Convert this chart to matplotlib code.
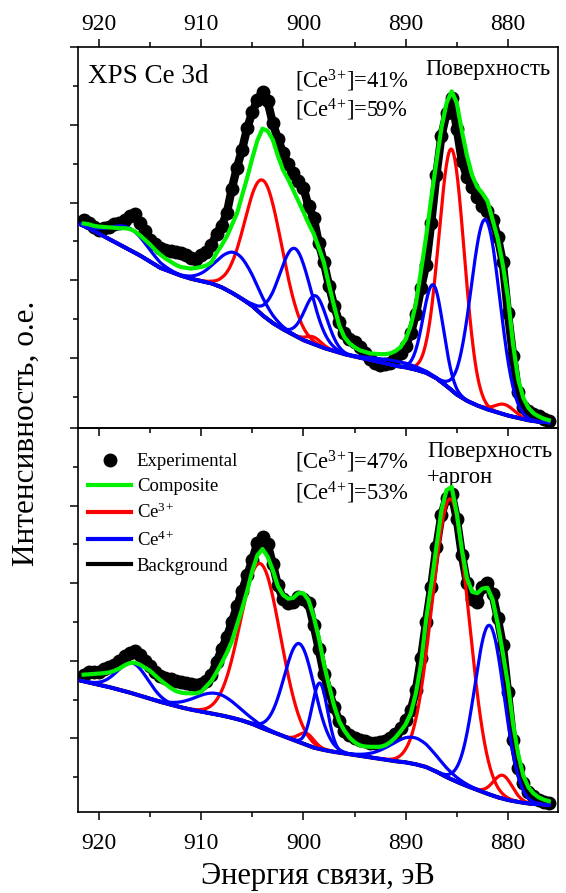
import numpy as np
import matplotlib
matplotlib.use('Agg')
import matplotlib.pyplot as plt
from matplotlib.ticker import MultipleLocator
from matplotlib.lines import Line2D

plt.rcParams['font.family'] = ['Liberation Serif', 'DejaVu Serif']
plt.rcParams['mathtext.fontset'] = 'custom'
plt.rcParams['mathtext.rm'] = 'Liberation Serif'
plt.rcParams['mathtext.default'] = 'regular'

# energy axes (eV)
E_bg = np.arange(922.0, 875.5, -1.0)      # background knots
E_exp = np.arange(921.5, 875.9, -0.5)     # measured points / composite

# ---------------- surface (top panel) ----------------
bg_top = [27.3, 26.7, 26.0, 25.3, 24.6, 23.9, 23.2, 22.4, 21.6, 21.1, 20.6, 20.2,
          19.9, 19.6, 19.1, 18.4, 17.6, 16.7, 15.5, 14.5, 13.7, 13.0, 12.3, 11.8,
          11.3, 10.9, 10.5, 10.2, 9.9, 9.6, 9.3, 9.0, 8.8, 8.5, 8.1, 7.4,
          6.4, 5.3, 4.5, 3.9, 3.4, 3.0, 2.6, 2.3, 2.0, 1.8, 1.7]
exp_top = [27.8, 27.4, 26.9, 26.5, 26.7, 26.9, 27.2, 27.4, 27.8, 28.3, 28.5, 27.4,
           26.3, 25.2, 24.6, 24.1, 23.9, 23.8, 23.6, 23.5, 23.2, 22.8, 22.7, 23.3,
           23.6, 24.5, 26.0, 27.0, 28.6, 31.8, 34.5, 36.8, 39.6, 41.6, 43.2, 44.2,
           43.0, 40.2, 38.2, 36.4, 35.0, 33.8, 32.8, 31.9, 29.5, 28.0, 24.8, 22.3,
           19.3, 16.7, 14.6, 13.2, 12.5, 12.0, 11.4, 10.6, 9.9, 9.3, 9.1, 9.2,
           9.4, 10.0, 10.6, 11.5, 13.2, 15.6, 19.0, 22.0, 27.4, 33.5, 38.6, 41.5,
           43.5, 39.5, 35.3, 33.3, 32.0, 30.7, 29.6, 28.9, 27.8, 25.6, 22.3, 15.8,
           10.3, 5.6, 3.7, 3.2, 2.8, 2.5, 2.1, 1.9]
fit_top = [27.3, 27.2, 27.0, 26.9, 26.85, 26.8, 26.75, 26.7, 26.7, 26.6, 26.3, 25.8,
           25.2, 24.6, 23.9, 23.3, 22.8, 22.4, 22.0, 21.7, 21.6, 21.5, 21.6, 21.7,
           21.9, 22.3, 23.5, 24.5, 25.6, 27.1, 28.6, 30.9, 33.2, 35.7, 38.0, 39.5,
           39.2, 38.1, 36.0, 34.2, 33.0, 31.6, 30.2, 28.8, 27.3, 26.0, 24.2, 22.3,
           19.4, 16.7, 14.2, 12.7, 11.9, 11.4, 11.0, 10.8, 10.6, 10.55, 10.5, 10.5,
           10.6, 10.9, 11.4, 12.4, 14.2, 17.0, 21.2, 25.6, 30.5, 35.2, 39.6, 42.8,
           44.3, 42.8, 39.2, 36.0, 33.5, 32.0, 31.2, 30.2, 27.8, 25.4, 22.0, 17.8,
           11.8, 7.3, 4.9, 3.6, 2.9, 2.5, 2.2, 2.0]
# fitted components: (centre eV, height above background, FWHM eV)
ce3_top = [(903.9, 17.4, 4.2), (899.0, 0.9, 1.8), (885.5, 31.0, 2.9), (880.3, 1.3, 2.2)]
ce4_top = [(917.0, 2.8, 4.2), (906.5, 5.4, 4.5), (900.8, 11.2, 3.6), (898.8, 6.3, 2.6),
           (891.0, 0.6, 5.0), (887.3, 11.8, 2.3), (882.2, 24.3, 3.3)]

# ---------------- surface + argon (bottom panel) ----------------
bg_bot = [17.5, 17.2, 16.9, 16.6, 16.25, 15.9, 15.5, 15.1, 14.7, 14.35, 14.0, 13.7,
          13.45, 13.2, 12.95, 12.65, 12.3, 11.85, 11.3, 10.8, 10.3, 9.8, 9.3, 8.8,
          8.5, 8.25, 8.05, 7.85, 7.65, 7.45, 7.25, 7.05, 6.9, 6.65, 6.3, 5.7,
          5.0, 4.4, 3.85, 3.35, 2.85, 2.4, 2.05, 1.8, 1.6, 1.5, 1.4]
exp_bot = [18.1, 18.5, 18.6, 18.6, 18.9, 19.2, 19.5, 20.0, 20.6, 21.0, 21.2, 20.8,
           20.0, 19.3, 18.6, 18.0, 17.8, 17.6, 17.4, 17.3, 17.1, 17.0, 16.9, 17.0,
           17.4, 18.2, 19.8, 21.5, 23.0, 25.0, 27.0, 29.0, 31.0, 33.0, 35.2, 36.0,
           35.0, 32.5, 29.7, 28.0, 27.4, 27.6, 28.2, 28.0, 27.4, 24.6, 21.5, 18.3,
           16.0, 14.0, 12.2, 11.0, 10.4, 10.1, 9.8, 9.6, 9.4, 9.4, 9.5, 9.7,
           10.0, 10.6, 11.3, 12.3, 13.6, 16.2, 20.3, 25.0, 29.5, 34.6, 38.8, 41.0,
           41.5, 38.3, 33.6, 30.0, 28.0, 27.6, 29.5, 30.0, 28.6, 25.5, 22.0, 16.0,
           9.8, 6.2, 4.2, 3.1, 2.5, 2.1, 1.8, 1.6]
fit_bot = [18.2, 18.25, 18.3, 18.35, 18.4, 18.5, 18.7, 19.0, 19.4, 19.7, 19.75, 19.5,
           19.1, 18.7, 18.1, 17.5, 17.0, 16.5, 16.1, 15.9, 15.8, 15.8, 15.8, 16.0,
           16.7, 17.4, 18.5, 19.7, 21.0, 22.5, 24.6, 26.7, 29.0, 31.6, 33.6, 34.4,
           33.4, 31.7, 29.6, 28.5, 28.0, 28.1, 28.7, 28.7, 27.8, 25.7, 23.0, 19.6,
           16.8, 14.2, 12.2, 11.0, 10.1, 9.5, 9.1, 8.95, 8.9, 8.9, 8.9, 9.1,
           9.5, 10.1, 10.9, 11.8, 13.2, 15.8, 19.6, 25.3, 29.8, 34.6, 39.4, 42.0,
           42.4, 39.0, 34.3, 30.6, 28.9, 28.7, 29.3, 29.4, 27.9, 24.8, 21.0, 17.0,
           11.9, 8.0, 5.2, 3.7, 2.9, 2.4, 2.1, 1.9]
ce3_bot = [(904.2, 21.1, 4.6), (899.7, 1.5, 1.8), (885.6, 36.1, 4.2), (880.5, 3.0, 2.2)]
ce4_bot = [(916.7, 3.9, 3.5), (908.5, 2.7, 5.0), (900.4, 12.7, 3.5), (898.4, 8.5, 1.8),
           (889.2, 3.4, 5.2), (881.8, 21.8, 3.4)]

E_fine = np.linspace(921.8, 876.0, 700)
GREEN, RED, BLUE = '#00f000', '#ff0000', '#0000ff'


def peak(e, c, h, w):
    s = w / 2.3548
    return h * np.exp(-0.5 * ((e - c) / s) ** 2)


def draw_panel(ax, bg, exp, fit, ce3, ce4):
    base = np.interp(E_fine, E_bg[::-1], np.array(bg)[::-1])
    ax.plot(E_exp, exp, '-o', color='k', lw=6, ms=9, zorder=1,
            solid_joinstyle='round', solid_capstyle='round')
    ax.plot(E_bg, bg, color='k', lw=3, zorder=2)
    for c, h, w in ce3:
        ax.plot(E_fine, base + peak(E_fine, c, h, w), color=RED, lw=2.3, zorder=3)
    for c, h, w in ce4:
        ax.plot(E_fine, base + peak(E_fine, c, h, w), color=BLUE, lw=2.3, zorder=4)
    ax.plot(E_exp, fit, color=GREEN, lw=3, zorder=5, solid_joinstyle='round')


fig = plt.figure(figsize=(5.66, 8.93), dpi=100)
W, H = 566.0, 893.0
ax1 = fig.add_axes([78 / W, 1 - 428 / H, 480 / W, 381 / H])
ax2 = fig.add_axes([78 / W, 1 - 812 / H, 480 / W, 384 / H])
ax1.set_zorder(2)
ax1.patch.set_alpha(0)

draw_panel(ax1, bg_top, exp_top, fit_top, ce3_top, ce4_top)
draw_panel(ax2, bg_bot, exp_bot, fit_bot, ce3_bot, ce4_bot)

ax1.set_ylim(1, 50)
ax2.set_ylim(0.5, 50)
for ax in (ax1, ax2):
    ax.set_xlim(922.05, 875.1)
    ax.xaxis.set_major_locator(MultipleLocator(10))
    ax.xaxis.set_minor_locator(MultipleLocator(5))
    ax.yaxis.set_major_locator(MultipleLocator(10))
    ax.yaxis.set_minor_locator(MultipleLocator(5))
    ax.tick_params(axis='y', which='both', direction='out', left=True, right=False,
                   labelleft=False, width=1.1)
    ax.tick_params(axis='y', which='major', length=6)
    ax.tick_params(axis='y', which='minor', length=3.3)
    ax.tick_params(axis='x', which='both', direction='out', width=1.1, labelsize=17)
    ax.tick_params(axis='x', which='major', length=6)
    ax.tick_params(axis='x', which='minor', length=3.3)
    for sp in ax.spines.values():
        sp.set_linewidth(1.2)

ax1.tick_params(axis='x', which='both', top=True, bottom=True,
                labeltop=True, labelbottom=False, pad=3)
ax2.tick_params(axis='x', which='both', top=False, bottom=True,
                labeltop=False, labelbottom=True, pad=9)

# texts
def t1(px, py):
    return ((px - 78) / 480, (428 - py) / 381)


def t2(px, py):
    return ((px - 78) / 480, (812 - py) / 384)


CE3 = 'Ce$^{3}$$^{+}$'
CE4 = 'Ce$^{4}$$^{+}$'
ax1.text(*t1(88, 83), 'XPS Ce 3d', transform=ax1.transAxes, fontsize=19.5, va='baseline')
ax1.text(*t1(295, 88), '[' + CE3 + ']=41%', transform=ax1.transAxes, fontsize=16.3, va='baseline')
ax1.text(*t1(295, 117), '[' + CE4 + ']=59%', transform=ax1.transAxes, fontsize=16.3, va='baseline')
ax1.text(*t1(425, 75), 'Поверхность', transform=ax1.transAxes, fontsize=16.3, va='baseline')

ax2.text(*t2(295, 469), '[' + CE3 + ']=47%', transform=ax2.transAxes, fontsize=16.3, va='baseline')
ax2.text(*t2(295, 500), '[' + CE4 + ']=53%', transform=ax2.transAxes, fontsize=16.3, va='baseline')
ax2.text(*t2(427, 457), 'Поверхность', transform=ax2.transAxes, fontsize=16.3, va='baseline')
ax2.text(*t2(427, 483), '+аргон', transform=ax2.transAxes, fontsize=16.3, va='baseline')

handles = [Line2D([], [], color='k', marker='o', ls='none', ms=9),
           Line2D([], [], color=GREEN, lw=3),
           Line2D([], [], color=RED, lw=3),
           Line2D([], [], color=BLUE, lw=3),
           Line2D([], [], color='k', lw=3)]
labels = ['Experimental', 'Composite', CE3, CE4, 'Background']
ax2.legend(handles, labels, loc='upper left', bbox_to_anchor=(88 / W, 1 - 453 / H),
           bbox_transform=fig.transFigure, frameon=False, fontsize=13.5,
           handlelength=2.3, handletextpad=0.3, labelspacing=0.42,
           borderpad=0, borderaxespad=0)

fig.supylabel('Интенсивность, о.е.', x=26 / W, y=1 - 433 / H, ha='center', va='center',
              fontsize=22.5)
fig.supxlabel('Энергия связи, эВ', x=318 / W, y=1 - 884 / H, ha='center', va='baseline',
              fontsize=22)

fig.savefig('out.png', dpi=100)
